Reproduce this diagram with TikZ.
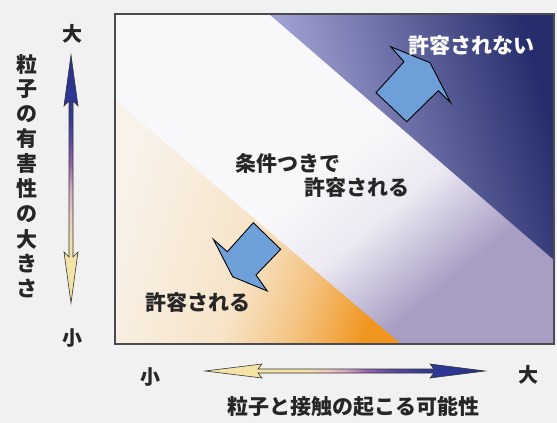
\documentclass[tikz,border=0pt]{standalone}
\usepackage{fontspec}
\newfontfamily\jp{Noto Sans CJK JP}
\definecolor{bg}{HTML}{F1F1F1}
\definecolor{frame}{HTML}{4A4A50}
\definecolor{midA}{HTML}{F8F8FA}
\definecolor{midB}{HTML}{ECE9F2}
\definecolor{midC}{HTML}{A89EC4}
\definecolor{blA}{HTML}{B4B4E2}
\definecolor{blB}{HTML}{4C58B0}
\definecolor{blC}{HTML}{262D6C}
\definecolor{orA}{HTML}{F8F2EA}
\definecolor{orB}{HTML}{F7E4C8}
\definecolor{orC}{HTML}{F0951E}
\definecolor{blk}{HTML}{6E9FD8}
\definecolor{txt}{HTML}{262626}
\definecolor{acream}{HTML}{F3E4A6}
\definecolor{apinkl}{HTML}{ECC8C0}
\definecolor{apink}{HTML}{D8A8C8}
\definecolor{apurp}{HTML}{9464AE}
\definecolor{apurb}{HTML}{5848A0}
\definecolor{ablue}{HTML}{303A98}
\definecolor{adark}{HTML}{283088}
\pgfdeclareverticalshading{midshade}{100bp}{color(0bp)=(midC); color(30bp)=(midC); color(42bp)=(midB); color(52bp)=(midA); color(100bp)=(midA)}
\pgfdeclarehorizontalshading{orshade}{100bp}{color(0bp)=(orA); color(25bp)=(orA); color(50bp)=(orB); color(62bp)=(orB!60!orC); color(75bp)=(orC); color(100bp)=(orC)}
\pgfdeclareverticalshading{vaxis}{100bp}{color(0bp)=(acream); color(25bp)=(acream); color(37bp)=(acream); color(43bp)=(apinkl); color(48bp)=(apink); color(53bp)=(apurp); color(58bp)=(apurb); color(63bp)=(ablue); color(75bp)=(adark); color(100bp)=(adark)}
\pgfdeclarehorizontalshading{haxis}{100bp}{color(0bp)=(acream); color(25bp)=(acream); color(43bp)=(acream); color(47bp)=(apinkl); color(50bp)=(apink); color(54bp)=(apurp); color(59bp)=(apurb); color(64bp)=(ablue); color(75bp)=(adark); color(100bp)=(adark)}
\tikzset{
  lbl/.style={inner sep=0pt, text=txt, font=\jp\bfseries\fontsize{21}{21}\selectfont},
  wlbl/.style={lbl, text=white},
  axlbl/.style={lbl, font=\jp\bfseries\fontsize{20}{20}\selectfont},
  blockarrow/.style={fill=blk, draw=black, line width=0.9pt, line join=miter},
  axisarrow/.style={draw=black!80, line width=0.6pt, line join=miter}
}
\begin{document}
\begin{tikzpicture}[x=1pt,y=-1pt]
\useasboundingbox (0,0) rectangle (557,423);
\fill[bg] (0,0) rectangle (557,423);
% middle band (whole plot)
\shade[shading=midshade, shading angle=40] (115,14) rectangle (554,344);
% blue (not allowed) region
\shade[left color=blA, middle color=blB, right color=blC, shading angle=105] (269,14) -- (554,14) -- (554,260) -- cycle;
% orange (allowed) region
\shade[shading=orshade, shading angle=-18] (115,100) -- (401,344) -- (115,344) -- cycle;
% frame
\draw[frame, line width=1.5pt] (115,14) rectangle (554,344);
% block arrows
\draw[blockarrow] (376,92.7) -- (404,61.7) -- (390.7,46.7) -- (430,62.7) -- (450.7,102.7) -- (438.3,90.7) -- (406.7,121.7) -- cycle;
\draw[blockarrow] (253.3,222.7) -- (280.7,249.3) -- (256,275) -- (267.3,291) -- (232.7,276.8) -- (213.3,239.3) -- (227.3,251.7) -- cycle;
% region labels
\node[wlbl] (notok) at (471,45) {許容されない};
\node[lbl] (cond1) at (288,163) {条件つきで};
\node[lbl] (cond2) at (357,187) {許容される};
\node[lbl] (ok) at (198,302) {許容される};
% vertical axis
\shade[shading=vaxis, axisarrow] (71,55) -- (78,106) -- (73,101) -- (73,257) -- (78,252) -- (71,303) -- (64,252) -- (69,257) -- (69,101) -- (64,106) -- cycle;
\node[axlbl] (vbig) at (72,34) {大};
\node[axlbl] (vsmall) at (72,338) {小};
\foreach \c [count=\i from 0] in {粒,子,の,有,害,性,の,大,き,さ}
  \node[lbl] (v\i) at (27,{64+25*\i}) {\c};
% horizontal axis
\shade[shading=haxis, axisarrow] (205,371) -- (262,364) -- (258,369) -- (434,369) -- (430,364) -- (485,371) -- (430,378) -- (434,373) -- (258,373) -- (262,378) -- cycle;
\node[axlbl] (hsmall) at (150,377) {小};
\node[axlbl] (hbig) at (528,375) {大};
\node[lbl] (hlabel) at (353,407) {粒子と接触の起こる可能性};
\end{tikzpicture}
\end{document}
